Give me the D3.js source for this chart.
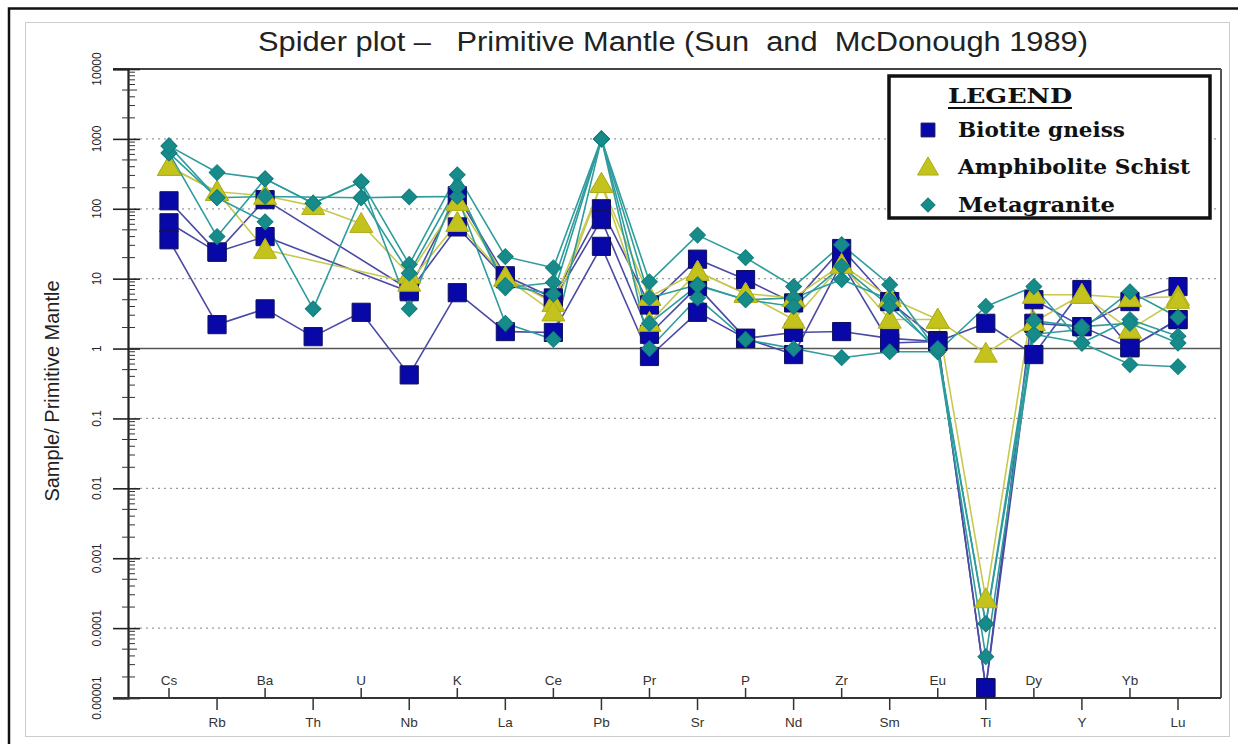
<!DOCTYPE html>
<html>
<head>
<meta charset="utf-8">
<script src="https://cdn.jsdelivr.net/npm/d3@7"></script>
<style>
  html, body { margin: 0; padding: 0; background: #fff; }
  svg { display: block; }
  text { white-space: pre; }
</style>
</head>
<body>
<svg id="chart" width="1238" height="744"></svg>
<script>
// Elements in spider-diagram order
const elements = ["Cs","Rb","Ba","Th","U","Nb","K","La","Ce","Pb","Pr","Sr","P","Nd","Zr","Sm","Eu","Ti","Dy","Y","Yb","Lu"];

// Y tick labels (decades)
const yTickValues = [1e-5, 1e-4, 1e-3, 1e-2, 1e-1, 1, 10, 100, 1000, 10000];
const yTickLabels = ["0.00001","0.0001","0.001","0.01","0.1","1","10","100","1000","10000"];

// Sample / primitive mantle values (null = not analysed)
//                 Cs   Rb   Ba   Th    U    Nb    K    La    Ce   Pb   Pr   Sr   P    Nd   Zr    Sm   Eu   Ti      Dy   Y    Yb   Lu
const biotite1 = [130, 24, 135, null, null, 7, 154, 11, 5.3, 100, 4.2, 19, 9.7, 4.5, 27, 4.7, 1.3, 1.4e-5, 5, 2.06, 4.7, 7.7];
const biotite2 = [63, 24, 40, null, null, 6.5, 55, 10, 4.8, 70, 1.6, 7.7, 1.4, 0.82, 17, 1.2, 1.26, 1.4e-5, 2.3, 2.06, 1.03, 2.6];
const biotite3 = [36, 2.2, 3.7, 1.48, 3.3, 0.42, 6.3, 1.75, 1.7, 29, 0.77, 3.3, 1.4, 1.7, 1.75, 1.4, 1.26, 2.3, 0.82, 7, 1.03, 2.6];

const amphib1 = [400, 175, 154, 110, 61, 11.4, 126, 10.4, 4.5, 227, 5.5, 12.6, 6.1, 5.3, 15.8, 5.3, 2.6, 2.6e-4, 5.9, 5.9, 5.3, 5.5];
const amphib2 = [400, 175, 26, null, null, 8.8, 63, 10.4, 3.3, 227, 2.35, 12.6, 6.1, 2.6, 15.8, 2.6, 2.6, 0.85, 2.4, 5.9, 1.87, 5.0];

const meta1 = [794, 330, 268, 120, 243, 16, 306, 20.7, 14.3, 1000, 9, 42, 20, 7.7, 30.6, 8.2, 0.9, 1.15e-4, 1.6, 1.87, 6.5, 2.8];
const meta2 = [630, 40, 268, 120, 243, 3.7, 205, 7.4, 8.8, 1000, 5.3, 8.2, 5, 5.3, 9.7, 5, 0.9, 3.9e-5, 1.6, 1.2, 2.6, 1.5];
const meta3 = [630, 144, 65, 3.7, 144, 148, 150, 2.3, 1.35, 1000, 1.0, 5.3, 1.35, 1.0, 0.74, 0.9, 0.9, 4, 7.7, 1.2, 0.59, 0.55];
const meta4 = [794, 144, 150, null, 144, 12, 205, 8, 6, 1000, 2.3, 8, 5, 4, 15, 4, 1.0, 1.15e-4, 2.5, 2.06, 2.3, 1.2];

const groups = [
  { name: "Biotite gneiss", symbol: "square", fill: "#0808a8", stroke: "#10105a", line: "#4a4aa6", samples: [biotite1, biotite2, biotite3] },
  { name: "Amphibolite Schist", symbol: "triangle", fill: "#c4c21c", stroke: "#b0ae18", line: "#c8c850", samples: [amphib1, amphib2] },
  { name: "Metagranite", symbol: "diamond", fill: "#178a8a", stroke: "#128080", line: "#2e9c9c", samples: [meta1, meta2, meta3, meta4] }
];

const svg = d3.select("#chart");
const W = 1238, H = 744;

// Frames
svg.append("rect").attr("x", 0).attr("y", 0).attr("width", W).attr("height", H).attr("fill", "#fff");
svg.append("path").attr("d", "M9,744 V8.5 H1238").attr("fill", "none").attr("stroke", "#111").attr("stroke-width", 2.5);
svg.append("rect").attr("x", 25.5).attr("y", 22.5).attr("width", 1204).attr("height", 714)
  .attr("fill", "none").attr("stroke", "#ccc").attr("stroke-width", 1);

// Plot geometry
const plotLeft = 128, plotRight = 1221, plotTop = 69, plotBottom = 698;
const x = d3.scalePoint().domain(elements).range([169, 1178]);
const y = d3.scaleLog().domain([1e-5, 1e4]).range([plotBottom, plotTop]);

// Gridlines
const g = svg.append("g");
g.selectAll("line.grid").data(yTickValues.filter(v => v > 1e-5 && v < 1e4 && v !== 1)).join("line")
  .attr("x1", plotLeft).attr("x2", plotRight).attr("y1", d => y(d)).attr("y2", d => y(d))
  .attr("stroke", "#9a9a9a").attr("stroke-width", 1.2).attr("stroke-dasharray", "2,4");
g.append("line").attr("x1", plotLeft).attr("x2", plotRight).attr("y1", y(1)).attr("y2", y(1))
  .attr("stroke", "#555").attr("stroke-width", 1.6);

// Box
g.append("line").attr("x1", 113).attr("x2", plotRight).attr("y1", plotTop).attr("y2", plotTop).attr("stroke", "#444").attr("stroke-width", 2);
g.append("line").attr("x1", plotRight).attr("x2", plotRight).attr("y1", plotTop).attr("y2", plotBottom).attr("stroke", "#555").attr("stroke-width", 2);

// Y axis
const yAxis = d3.axisLeft(y).tickValues(yTickValues).tickSize(15).tickFormat(() => "");
const ya = g.append("g").attr("transform", `translate(${plotLeft},0)`).call(yAxis);
ya.select(".domain").attr("stroke", "#222").attr("stroke-width", 2.2);
ya.selectAll(".tick line").attr("stroke", "#222").attr("stroke-width", 1.6);
ya.selectAll(".tick").append("line").attr("x1", 0).attr("x2", 12).attr("stroke", "#222").attr("stroke-width", 1.6);

// Minor log ticks
const minors = [];
for (let e = -5; e < 4; e++) for (let m = 2; m <= 9; m++) minors.push({ v: m * Math.pow(10, e), m });
g.selectAll("line.minor").data(minors).join("line")
  .attr("x1", plotLeft).attr("x2", d => plotLeft + (d.m === 5 ? 9 : 7))
  .attr("y1", d => y(d.v)).attr("y2", d => y(d.v))
  .attr("stroke", "#333").attr("stroke-width", 1);
g.selectAll("line.minorL").data(minors.filter(d => d.m === 2 || d.m === 5)).join("line")
  .attr("x1", plotLeft - 6).attr("x2", plotLeft)
  .attr("y1", d => y(d.v)).attr("y2", d => y(d.v))
  .attr("stroke", "#333").attr("stroke-width", 1);

// Y tick labels (rotated)
g.selectAll("text.ylab").data(yTickValues).join("text")
  .attr("transform", (d) => `translate(97,${y(d)}) rotate(-90)`)
  .attr("text-anchor", "middle").attr("dy", "0.35em")
  .attr("font-family", "Liberation Sans, Arial, sans-serif").attr("font-size", 12).attr("fill", "#222")
  .text((d, i) => yTickLabels[i]);

// Y title
svg.append("text").attr("transform", "translate(52,391) rotate(-90)")
  .attr("text-anchor", "middle").attr("dy", "0.35em")
  .attr("font-family", "Liberation Sans, Arial, sans-serif").attr("font-size", 20).attr("fill", "#222")
  .text("Sample/ Primitive Mantle");

// X axis line
g.append("line").attr("x1", 113).attr("x2", plotRight).attr("y1", plotBottom).attr("y2", plotBottom).attr("stroke", "#333").attr("stroke-width", 2);
const xt = g.selectAll("g.xt").data(elements).join("g").attr("transform", d => `translate(${x(d)},${plotBottom})`);
xt.append("line").attr("y1", 0).attr("y2", (d, i) => i % 2 === 0 ? -10 : 12).attr("stroke", "#333").attr("stroke-width", 1.5);
xt.append("text").attr("text-anchor", "middle")
  .attr("y", (d, i) => i % 2 === 0 ? -13 : 29)
  .attr("font-family", "Liberation Sans, Arial, sans-serif").attr("font-size", 13.5).attr("fill", "#333")
  .text(d => d);

// Title
svg.append("text").attr("x", 258).attr("y", 51)
  .attr("textLength", 830).attr("lengthAdjust", "spacingAndGlyphs")
  .attr("font-family", "Liberation Sans, Arial, sans-serif").attr("font-size", 27).attr("fill", "#222")
  .text("Spider plot \u2013   Primitive Mantle (Sun  and  McDonough 1989)");

// Series lines
const line = d3.line().x(d => x(d.el)).y(d => y(d.v));
const plot = svg.append("g");
groups.forEach(gr => {
  gr.samples.forEach(s => {
    const pts = elements.map((el, i) => ({ el, v: s[i] })).filter(p => p.v != null);
    plot.append("path").datum(pts).attr("d", line)
      .attr("fill", "none").attr("stroke", gr.line).attr("stroke-width", 1.6).attr("stroke-linejoin", "round");
  });
});

// Markers: squares, triangles and 45°-rotated squares (diamonds)
const symbolOf = { square: d3.symbolSquare, triangle: d3.symbolTriangle, diamond: d3.symbolSquare };
const sizeOf = { square: 330, triangle: 230, diamond: 125 };
const rotOf = { square: 0, triangle: 0, diamond: 45 };
groups.forEach(gr => {
  const sym = d3.symbol().type(symbolOf[gr.symbol]).size(sizeOf[gr.symbol]);
  gr.samples.forEach(s => {
    const pts = elements.map((el, i) => ({ el, v: s[i] })).filter(p => p.v != null);
    plot.selectAll(null).data(pts).join("path")
      .attr("transform", d => `translate(${x(d.el)},${y(d.v) + (gr.symbol === "triangle" ? 2 : 0)}) rotate(${rotOf[gr.symbol]})`)
      .attr("d", sym).attr("fill", gr.fill).attr("stroke", gr.stroke).attr("stroke-width", 1);
  });
});

// Legend
const lg = svg.append("g");
const serif = "DejaVu Serif, Liberation Serif, serif";
lg.append("rect").attr("x", 889).attr("y", 76).attr("width", 321).attr("height", 142)
  .attr("fill", "#fff").attr("stroke", "#111").attr("stroke-width", 3.5);
lg.append("text").attr("x", 948).attr("y", 103)
  .attr("textLength", 124).attr("lengthAdjust", "spacingAndGlyphs")
  .attr("font-family", serif).attr("font-weight", "bold").attr("font-size", 20).attr("fill", "#111")
  .text("LEGEND");
lg.append("line").attr("x1", 948).attr("x2", 1072).attr("y1", 108).attr("y2", 108).attr("stroke", "#111").attr("stroke-width", 2);
const rows = [130, 167, 205];
const legLen = [167, 232, 157];
const legSize = { square: 190, triangle: 190, diamond: 100 };
groups.forEach((gr, i) => {
  lg.append("path").attr("transform", `translate(928,${rows[i] + (gr.symbol === "triangle" ? 2 : 0)}) rotate(${rotOf[gr.symbol]})`)
    .attr("d", d3.symbol().type(symbolOf[gr.symbol]).size(legSize[gr.symbol])())
    .attr("fill", gr.fill).attr("stroke", gr.stroke).attr("stroke-width", 1);
  lg.append("text").attr("x", 958).attr("y", rows[i]).attr("dy", "0.35em")
    .attr("textLength", legLen[i]).attr("lengthAdjust", "spacingAndGlyphs")
    .attr("font-family", serif).attr("font-weight", "bold").attr("font-size", 20).attr("fill", "#111")
    .text(gr.name);
});
</script>
</body>
</html>
